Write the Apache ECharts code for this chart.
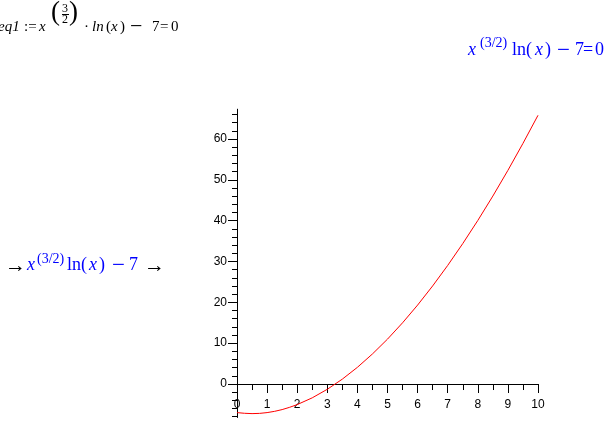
<!DOCTYPE html>
<html>
<head>
<meta charset="utf-8">
<script src="https://cdn.jsdelivr.net/npm/echarts@6/dist/echarts.min.js"></script>
<style>
html,body{margin:0;padding:0;background:#fff;}
#chart{width:610px;height:427px;}
</style>
</head>
<body>
<div id="chart"></div>
<script>
// Data
const xValues = [0, 0.25, 0.5, 0.75, 1, 1.25, 1.5, 1.75, 2, 2.5, 3, 3.5, 4, 4.5, 5, 5.5, 6, 6.5, 7, 7.5, 8, 8.5, 9, 9.5, 10];
const yValues = [-7.00, -7.17, -7.25, -7.19, -7.00, -6.69, -6.26, -5.70, -5.04, -3.38, -1.29, 1.20, 4.09, 7.36, 10.99, 14.99, 19.33, 24.02, 29.04, 34.39, 40.05, 46.03, 52.32, 58.92, 65.81];
const xTickLabels = [0, 1, 2, 3, 4, 5, 6, 7, 8, 9, 10];
const yTickLabels = [0, 10, 20, 30, 40, 50, 60];
const yMinorTicks = [-8, -6, -4, -2, 0, 2, 4, 6, 8, 10, 12, 14, 16, 18, 20, 22, 24, 26, 28, 30, 32, 34, 36, 38, 40, 42, 44, 46, 48, 50, 52, 54, 56, 58, 60, 62, 64, 66];

const chart = echarts.init(document.getElementById('chart'), null, {renderer: 'canvas'});

const SERIF = '"Liberation Serif","Times New Roman",serif';
const SANS = '"Liberation Sans",Arial,sans-serif';
const BLUE = '#0000ff';

const Y_MIN = -8.2, Y_MAX = 67.3;
const GRID_TOP = 109.2, GRID_BOTTOM = 9.5, CHART_H = 427;

function t(x, y, text, size, color, italic) {
  return {
    type: 'text', x: x, y: y, silent: true,
    style: {
      text: text, fill: color, font: (italic ? 'italic ' : '') + size + 'px ' + SERIF,
      textAlign: 'left', verticalAlign: 'middle'
    }
  };
}

const graphics = [
  // top-left equation (black)
  t(-2, 27, 'eq1', 15, '#000', true),
  t(24, 27, ':=', 15, '#000', false),
  t(39, 27, 'x', 15, '#000', true),
  t(51, 12.5, '(', 27, '#000', false),
  t(69, 12.5, ')', 27, '#000', false),
  t(62, 8.5, '3', 12, '#000', false),
  t(62, 19.5, '2', 12, '#000', false),
  {type: 'line', silent: true, shape: {x1: 62, y1: 14.5, x2: 69, y2: 14.5}, style: {stroke: '#000', lineWidth: 1}},
  t(84, 27, '·', 15, '#000', false),
  t(92, 27, 'ln', 15, '#000', true),
  t(106, 27, '(', 15, '#000', false),
  t(111, 27, 'x', 15, '#000', true),
  t(120, 27, ')', 15, '#000', false),
  t(130, 27, '−', 22, '#000', false),
  t(152, 27, '7', 15, '#000', false),
  t(160, 27, '=', 15, '#000', false),
  t(171, 27, '0', 15, '#000', false),

  // top-right (blue)
  t(468, 50.5, 'x', 18, BLUE, true),
  t(480, 43.5, '(3/2)', 14, BLUE, false),
  t(512, 50.5, 'ln(', 18, BLUE, false),
  t(535, 50.5, 'x', 18, BLUE, true),
  t(545, 50.5, ')', 18, BLUE, false),
  t(557, 50.5, '−', 23, BLUE, false),
  t(575, 50.5, '7', 18, BLUE, false),
  t(583, 50.5, '=', 18, BLUE, false),
  t(595, 50.5, '0', 18, BLUE, false),

  // middle-left
  t(5, 266, '→', 21, '#000', false),
  t(27, 265.5, 'x', 18, BLUE, true),
  t(37, 259, '(3/2)', 14, BLUE, false),
  t(67, 265.5, 'ln(', 18, BLUE, false),
  t(89, 265.5, 'x', 18, BLUE, true),
  t(99, 265.5, ')', 18, BLUE, false),
  t(112, 265.5, '−', 23, BLUE, false),
  t(129, 265.5, '7', 18, BLUE, false),
  t(144, 266, '→', 21, '#000', false)
];

// distance of the y=0 line above the bottom of the grid (pixels), to place the x axis there
const gridH = CHART_H - GRID_TOP - GRID_BOTTOM;
const zeroOffset = gridH * (0 - Y_MIN) / (Y_MAX - Y_MIN);

const option = {
  animation: false,
  backgroundColor: '#ffffff',
  grid: {left: 237, right: 72, top: GRID_TOP, bottom: GRID_BOTTOM, containLabel: false, outerBoundsMode: 'none'},
  xAxis: {
    type: 'value', min: 0, max: 10, interval: 1, position: 'bottom', offset: -zeroOffset,
    axisLine: {show: true, onZero: false, lineStyle: {color: '#000', width: 1}},
    axisTick: {show: true, inside: false, length: 9, lineStyle: {color: '#000'}},
    minorTick: {show: true, splitNumber: 2, length: 6, lineStyle: {color: '#000'}},
    axisLabel: {show: true, margin: 15, color: '#000', fontSize: 12, fontFamily: SANS,
      formatter: function (v) { return xTickLabels.indexOf(v) >= 0 ? String(v) : ''; }},
    splitLine: {show: false}
  },
  yAxis: [{
    type: 'value', min: Y_MIN, max: Y_MAX,
    axisLine: {show: true, onZero: false, lineStyle: {color: '#000', width: 1}},
    axisTick: {show: true, inside: false, length: 9, lineStyle: {color: '#000'}, customValues: yTickLabels},
    axisLabel: {show: true, margin: 10, color: '#000', fontSize: 12, fontFamily: SANS, customValues: yTickLabels},
    splitLine: {show: false}
  }, {
    type: 'value', min: Y_MIN, max: Y_MAX, position: 'left', offset: 0,
    axisLine: {show: false, onZero: false},
    axisTick: {show: true, inside: false, length: 5, lineStyle: {color: '#000'}, customValues: yMinorTicks},
    axisLabel: {show: false},
    splitLine: {show: false}
  }],
  series: [{
    type: 'line',
    yAxisIndex: 0,
    data: xValues.map((x, i) => [x, yValues[i]]),
    showSymbol: false,
    smooth: false,
    lineStyle: {color: '#ff0000', width: 1},
    itemStyle: {color: '#ff0000'}
  }],
  graphic: graphics
};

chart.setOption(option);
</script>
</body>
</html>
